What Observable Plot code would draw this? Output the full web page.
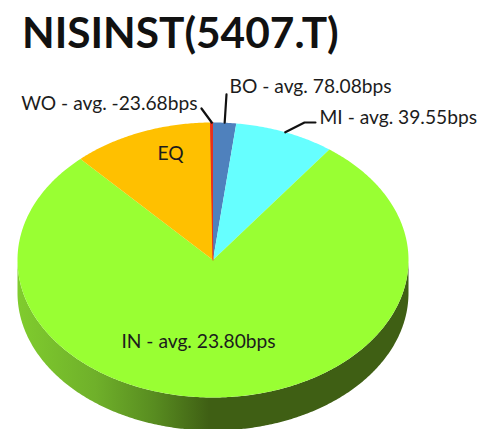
<!DOCTYPE html>
<html>
<head>
<meta charset="utf-8">
<script src="https://cdn.jsdelivr.net/npm/d3@7"></script>
<script src="https://cdn.jsdelivr.net/npm/@observablehq/plot@0.6"></script>
<style>
html,body{margin:0;padding:0;background:#fff;overflow:hidden}
#title{height:70px;font:700 42.4px/64px Lato,sans-serif;color:#111;padding-left:22px;white-space:nowrap;box-sizing:border-box}
svg{display:block}
</style>
</head>
<body>
<div id="title">NISINST(5407.T)</div>
<div id="chart"></div>
<script>
// Slices, clockwise from twelve o'clock (share of the pie in %)
const categories = ["BO", "MI", "IN", "EQ", "WO"];
const shares = [1.9, 8.25, 78, 11.65, 0.2];
const colors = ["#4F81BD", "#66FFFF", "#99FF33", "#FFC000", "#E8301C"];
const labels = ["BO - avg. 78.08bps", "MI - avg. 39.55bps", "IN - avg. 23.80bps", "EQ", "WO - avg. -23.68bps"];

// Layout (in pie units: the rim is at distance 1 from the centre)
const depth = 0.24;
const labelPos = {
  BO: {x: 0.085, y: 1.262, anchor: "start"},
  MI: {x: 0.545, y: 1.036, anchor: "start"},
  IN: {x: -0.074, y: -0.593, anchor: "middle"},
  EQ: {x: -0.217, y: 0.774, anchor: "middle"},
  WO: {x: -0.079, y: 1.138, anchor: "end"}
};
const leaderEnds = {
  BO: [[0.069, 1.204]],
  MI: [[0.468, 1.0], [0.524, 1.0]],
  WO: [[-0.059, 1.102]]
};

const arcs = d3.pie().sort(null)(shares);
const rim = (a, dy = 0) => ({x: Math.sin(a), y: Math.cos(a) + dy});
const sweep = (a0, a1) => {
  const n = Math.max(2, Math.ceil(Math.abs(a1 - a0) / 0.01));
  return d3.range(n + 1).map(i => a0 + (a1 - a0) * i / n);
};

const slicePoints = arcs.flatMap((arc, i) => [
  {x: 0, y: 0, category: categories[i]},
  ...sweep(arc.startAngle, arc.endAngle).map(a => ({...rim(a), category: categories[i]}))
]);

const sideAngles = sweep(Math.PI / 2, 3 * Math.PI / 2);
const sidePoints = [
  ...sideAngles.map(a => rim(a)),
  ...sideAngles.slice().reverse().map(a => rim(a, -depth))
];

const leaderPoints = categories.flatMap((c, i) => {
  if (!leaderEnds[c]) return [];
  const mid = (arcs[i].startAngle + arcs[i].endAngle) / 2;
  return [rim(mid), ...leaderEnds[c].map(([x, y]) => ({x, y}))].map(p => ({...p, category: c}));
});

const textRows = categories.map((c, i) => ({label: labels[i], ...labelPos[c]}));
const textMark = anchor => Plot.text(textRows.filter(d => d.anchor === anchor), {
  x: "x", y: "y", text: "label", textAnchor: anchor,
  fontFamily: "Lato, sans-serif", fontSize: 19.2, fill: "#1c1c1c"
});

const sideGradient = () => {
  const defs = d3.create("svg:defs");
  const g = defs.append("linearGradient").attr("id", "sideShade");
  [[0, "#80CC2E"], [0.2, "#6FB02A"], [0.35, "#588C20"], [0.49, "#3F5F14"], [1, "#3F5F14"]]
    .forEach(([o, c]) => g.append("stop").attr("offset", o).attr("stop-color", c));
  return defs.node();
};

const chart = Plot.plot({
  width: 480,
  height: 359,
  margin: 0,
  x: {domain: [-1, 1], range: [17, 408], axis: null},
  y: {domain: [-1, 1], range: [327, 52], axis: null},
  color: {domain: categories, range: colors},
  style: {background: "#fff", overflow: "hidden"},
  marks: [
    sideGradient,
    Plot.line(sidePoints, {x: "x", y: "y", fill: "url(#sideShade)", stroke: "none"}),
    Plot.line(slicePoints, {x: "x", y: "y", z: "category", fill: "category", stroke: "none"}),
    Plot.line(slicePoints.filter(d => d.category === "WO"), {x: "x", y: "y", fill: "category", stroke: "category", strokeWidth: 1}),
    Plot.line(leaderPoints, {x: "x", y: "y", z: "category", stroke: "#111", strokeWidth: 2.2, strokeLinejoin: "miter"}),
    textMark("start"), textMark("middle"), textMark("end")
  ]
});
document.getElementById("chart").appendChild(chart);
</script>
</body>
</html>
